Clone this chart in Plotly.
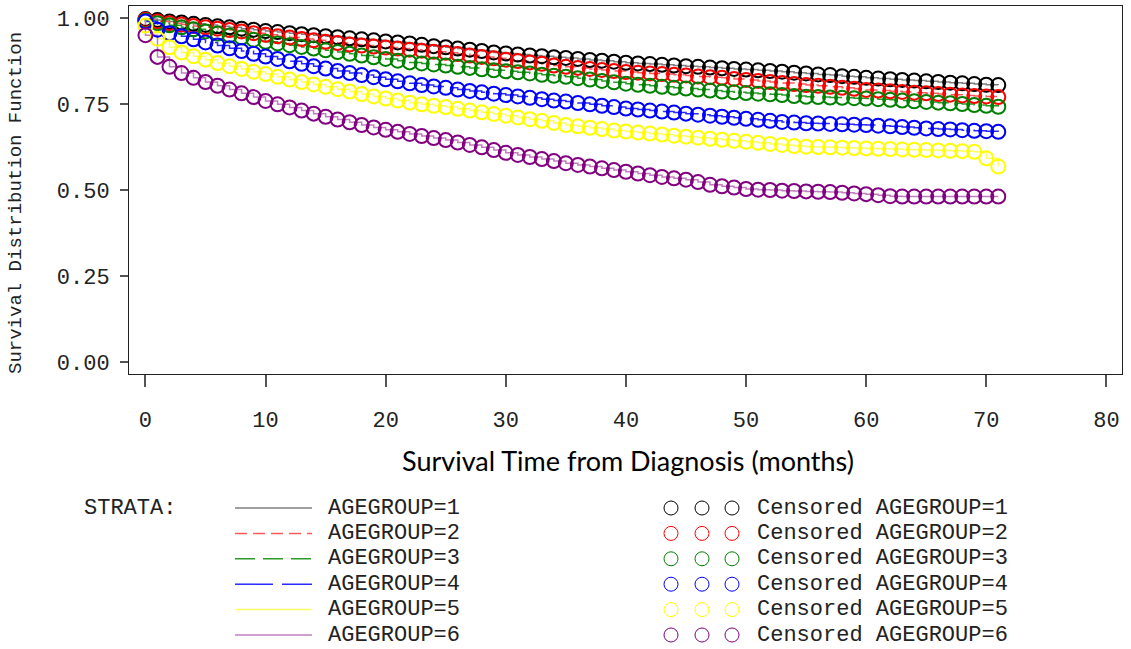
import plotly.graph_objects as go

MONTHS = list(range(0, 72))

GROUP_LABELS = ["AGEGROUP=1", "AGEGROUP=2", "AGEGROUP=3", "AGEGROUP=4", "AGEGROUP=5", "AGEGROUP=6"]

SURV_1 = [.997, .994, .990, .987, .983, .980, .976, .973, .969, .966, .962,
          .959, .956, .953, .950, .947, .944, .941, .938, .935, .932,
          .929, .926, .922, .918, .915, .911, .908, .904, .900, .897,
          .894, .891, .889, .886, .884, .881, .878, .876, .873, .870,
          .868, .866, .864, .862, .860, .858, .856, .854, .852, .850,
          .848, .846, .844, .841, .839, .836, .834, .831, .829, .826,
          .824, .822, .820, .818, .816, .814, .812, .810, .808, .806, .805]
SURV_2 = [.995, .990, .985, .981, .977, .973, .969, .965, .961, .956, .951,
          .947, .943, .939, .935, .931, .927, .923, .920, .917, .914,
          .911, .908, .905, .902, .899, .895, .891, .887, .883, .879,
          .875, .871, .867, .862, .858, .855, .852, .849, .846, .843,
          .841, .839, .837, .835, .833, .830, .828, .826, .823, .820,
          .817, .814, .811, .808, .805, .803, .800, .797, .794, .791,
          .789, .787, .785, .783, .781, .779, .777, .775, .773, .772, .770]
SURV_3 = [.992, .985, .979, .973, .967, .961, .955, .949, .943, .937, .931,
          .926, .921, .916, .911, .906, .901, .896, .891, .886, .881,
          .876, .871, .868, .865, .862, .858, .855, .851, .848, .845,
          .842, .839, .835, .832, .829, .825, .821, .817, .813, .809,
          .806, .803, .800, .797, .795, .792, .789, .786, .784, .782,
          .780, .778, .776, .773, .771, .770, .769, .768, .767, .766,
          .764, .762, .760, .758, .756, .754, .752, .750, .747, .745, .742]
SURV_4 = [.990, .966, .956, .947, .938, .929, .920, .912, .904, .896, .888,
          .881, .874, .867, .860, .853, .846, .840, .834, .828, .822,
          .816, .810, .805, .801, .797, .792, .788, .784, .780, .776,
          .772, .768, .764, .760, .757, .753, .749, .745, .741, .737,
          .734, .731, .728, .725, .722, .719, .716, .713, .710, .707,
          .704, .701, .698, .696, .694, .693, .692, .691, .690, .689,
          .687, .685, .683, .681, .679, .677, .676, .674, .672, .671, .669]
SURV_5 = [.978, .940, .915, .900, .889, .879, .869, .860, .852, .844, .837,
          .829, .821, .814, .807, .800, .793, .786, .779, .772, .766,
          .760, .754, .749, .745, .741, .736, .731, .726, .721, .716,
          .711, .706, .701, .695, .689, .685, .681, .677, .673, .670,
          .667, .664, .661, .658, .655, .652, .649, .646, .643, .640,
          .637, .634, .631, .628, .626, .625, .624, .623, .622, .621,
          .620, .619, .618, .617, .616, .615, .614, .613, .611, .592, .568]
SURV_6 = [.950, .887, .858, .840, .826, .814, .803, .792, .781, .770, .759,
          .749, .740, .731, .722, .713, .705, .697, .689, .682, .675,
          .669, .663, .657, .651, .645, .638, .631, .624, .616, .608,
          .602, .596, .590, .584, .578, .573, .568, .563, .558, .553,
          .548, .543, .538, .534, .530, .523, .515, .511, .507, .503,
          .501, .500, .498, .497, .496, .495, .494, .492, .490, .488,
          .485, .482, .481, .481, .481, .481, .481, .481, .481, .481, .481]

SERIES = [SURV_1, SURV_2, SURV_3, SURV_4, SURV_5, SURV_6]
Y_TICKS = [0.0, 0.25, 0.5, 0.75, 1.0]
X_TICKS = [0, 10, 20, 30, 40, 50, 60, 70, 80]

MARKER_COLORS = ["#000000", "#ff0000", "#008000", "#0000ff", "#ffff00", "#800080"]
LINE_COLORS = ["#808080", "#ff5a5a", "#2a9a2a", "#2a2aff", "#ffff66", "#c080c0"]
DASHES = ["solid", "12px,6px", "20px,8px", "38px,9px", "solid", "solid"]

MONO = "Liberation Mono, Courier New, monospace"

fig = go.Figure()
for i, surv in enumerate(SERIES):
    fig.add_trace(go.Scatter(
        x=[MONTHS[0]] + MONTHS, y=[1.0] + surv, mode="lines", line_shape="hv",
        line=dict(color=LINE_COLORS[i], width=1.5, dash=DASHES[i]),
        showlegend=False, hoverinfo="skip"))
for i, surv in enumerate(SERIES):
    fig.add_trace(go.Scatter(
        x=MONTHS, y=surv, mode="markers",
        marker=dict(symbol="circle-open", size=14, color=MARKER_COLORS[i],
                    line=dict(width=2, color=MARKER_COLORS[i])),
        showlegend=False, name="Censored " + GROUP_LABELS[i]))

L, R, T, B = 129, 1122, 6, 374
W, H = R - L, B - T


def px(p):
    return (p - L) / W


def py(p):
    return (B - p) / H


shapes = []
annotations = []

annotations.append(dict(x=px(16), y=py(203), xref="paper", yref="paper",
                        text="Survival Distribution Function", textangle=-90,
                        showarrow=False, font=dict(family=MONO, size=19, color="#222"),
                        xanchor="center", yanchor="middle"))
annotations.append(dict(x=px(628), y=py(460), xref="paper", yref="paper",
                        text="Survival Time from Diagnosis (months)", showarrow=False,
                        font=dict(family="Lato, Carlito, sans-serif", size=27, color="#000"),
                        xanchor="center", yanchor="middle"))
annotations.append(dict(x=px(82), y=py(508), xref="paper", yref="paper",
                        text="STRATA:", showarrow=False,
                        font=dict(family=MONO, size=22, color="#222"),
                        xanchor="left", yanchor="middle"))

for i, lab in enumerate(GROUP_LABELS):
    yrow = 508 + 25.4 * i
    shapes.append(dict(type="line", xref="paper", yref="paper",
                       x0=px(235), x1=px(312), y0=py(yrow), y1=py(yrow),
                       line=dict(color=LINE_COLORS[i], width=1.5, dash=DASHES[i])))
    annotations.append(dict(x=px(326), y=py(yrow), xref="paper", yref="paper",
                            text=lab, showarrow=False,
                            font=dict(family=MONO, size=22, color="#222"),
                            xanchor="left", yanchor="middle"))
    for cx in (671, 702, 732):
        shapes.append(dict(type="circle", xref="paper", yref="paper",
                           xsizemode="pixel", ysizemode="pixel",
                           xanchor=px(cx), yanchor=py(yrow),
                           x0=-7, x1=7, y0=-7, y1=7,
                           line=dict(color=MARKER_COLORS[i], width=1)))
    annotations.append(dict(x=px(755), y=py(yrow), xref="paper", yref="paper",
                            text="Censored " + lab, showarrow=False,
                            font=dict(family=MONO, size=22, color="#222"),
                            xanchor="left", yanchor="middle"))

fig.update_layout(
    width=1131, height=649,
    margin=dict(l=L, r=1131 - R, t=T, b=649 - B),
    paper_bgcolor="white", plot_bgcolor="white",
    shapes=shapes, annotations=annotations,
    xaxis=dict(range=[-1.37, 81.3], tickvals=X_TICKS, ticks="outside", ticklen=12,
               tickcolor="#555", tickwidth=1.5, showgrid=False, zeroline=False,
               showline=True, mirror=True, linecolor="#222", linewidth=1,
               tickfont=dict(family=MONO, size=22, color="#222"),
               ticklabelstandoff=14),
    yaxis=dict(range=[-0.0349, 1.0349], tickvals=Y_TICKS, tickformat=".2f",
               ticks="outside", ticklen=8, tickcolor="#555", tickwidth=1.5,
               showgrid=False, zeroline=False, showline=True, mirror=True,
               linecolor="#222", linewidth=1,
               tickfont=dict(family=MONO, size=22, color="#222"),
               ticklabelstandoff=6),
)

fig.write_html("out.html", config={"displayModeBar": False},
               post_script="document.body.style.margin='0';document.body.style.overflow='hidden';")
